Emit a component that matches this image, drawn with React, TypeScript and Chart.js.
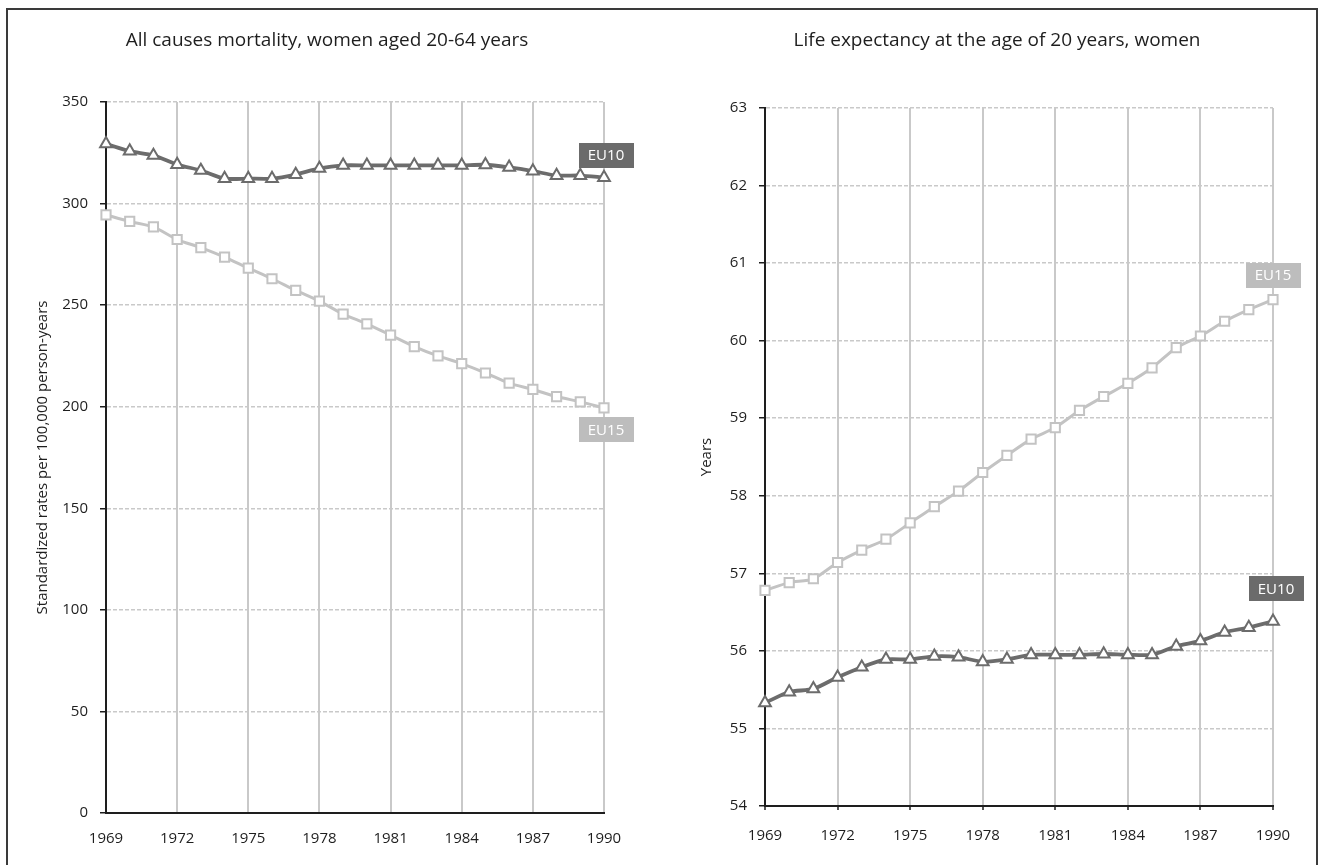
import React, { useEffect, useRef } from "react";
import { Chart, registerables } from "chart.js";

Chart.register(...registerables);

// ---------- DATA ----------
const years = [1969, 1970, 1971, 1972, 1973, 1974, 1975, 1976, 1977, 1978, 1979, 1980, 1981, 1982, 1983, 1984, 1985, 1986, 1987, 1988, 1989, 1990];
const xTickYears = [1969, 1972, 1975, 1978, 1981, 1984, 1987, 1990];

const mortalityTitle = "All causes mortality, women aged 20-64 years";
const mortalityAxisTitle = "Standardized rates per 100,000 person-years";
const mortalityEU10 = [329.4, 325.8, 323.7, 319.2, 316.3, 312.3, 312.3, 312.3, 314.3, 317.3, 318.8, 318.8, 318.8, 318.8, 318.8, 318.8, 319.1, 317.8, 316.0, 313.8, 313.8, 312.8];
const mortalityEU15 = [294.4, 291.2, 288.5, 282.3, 278.3, 273.6, 268.2, 263.0, 257.3, 252.0, 245.6, 240.8, 235.2, 229.6, 225.0, 221.2, 216.6, 211.6, 208.5, 205.0, 202.4, 199.4];
const mortalityTicks = [0, 50, 100, 150, 200, 250, 300, 350];

const lifeTitle = "Life expectancy at the age of 20 years, women";
const lifeAxisTitle = "Years";
const lifeEU10 = [55.33, 55.47, 55.51, 55.66, 55.79, 55.89, 55.89, 55.93, 55.92, 55.86, 55.89, 55.95, 55.95, 55.95, 55.96, 55.95, 55.95, 56.06, 56.13, 56.24, 56.30, 56.38];
const lifeEU15 = [56.78, 56.88, 56.93, 57.14, 57.30, 57.44, 57.65, 57.86, 58.06, 58.30, 58.52, 58.73, 58.88, 59.10, 59.28, 59.45, 59.65, 59.91, 60.06, 60.25, 60.40, 60.53];
const lifeTicks = [54, 55, 56, 57, 58, 59, 60, 61, 62, 63];

const seriesNames = ["EU10", "EU15"];

// ---------- STYLE ----------
const FONT = '"Open Sans", "Noto Sans", sans-serif';
const DARK = "#6c6c6c";
const LIGHT = "#c3c3c3";
const DARK_BOX = "#6b6b6b";
const LIGHT_BOX = "#bdbdbd";
const AXIS = "#1e1e1e";
const GRID = "#c9c9c9";

type EndLabel = { dataset: number; dx: number; dy: number; bg: string };

function makeEndLabelPlugin(items: EndLabel[]) {
  return {
    id: "endLabels",
    afterDatasetsDraw(chart: any) {
      const { ctx } = chart;
      const xs = chart.scales.x;
      const ys = chart.scales.y;
      items.forEach((it) => {
        const ds = chart.data.datasets[it.dataset];
        const last = ds.data[ds.data.length - 1];
        const cx = xs.getPixelForValue(last.x) + it.dx;
        const cy = ys.getPixelForValue(last.y) + it.dy;
        const w = 55;
        const h = 25;
        ctx.save();
        ctx.fillStyle = it.bg;
        ctx.fillRect(Math.round(cx - w / 2), Math.round(cy - h / 2), w, h);
        ctx.fillStyle = "#ffffff";
        ctx.font = `15px ${FONT}`;
        ctx.textAlign = "center";
        ctx.textBaseline = "middle";
        ctx.fillText(ds.label, cx, cy + 1);
        ctx.restore();
      });
    },
  };
}

function makeTitlePlugin(text: string, cx: number, cy: number) {
  return {
    id: "panelTitle",
    afterDraw(chart: any) {
      const { ctx } = chart;
      ctx.save();
      ctx.fillStyle = AXIS;
      ctx.font = `19px ${FONT}`;
      ctx.textAlign = "center";
      ctx.textBaseline = "middle";
      ctx.fillText(text, cx, cy);
      ctx.restore();
    },
  };
}

type PanelProps = {
  title: string;
  titleX: number;
  titleY: number;
  axisTitle: string;
  eu10: number[];
  eu15: number[];
  yTicks: number[];
  yAxisWidth: number;
  yTitleOffset: number;
  padTop: number;
  padRight: number;
  padBottom: number;
  xTickLen: number;
  xLabelPad: number;
  labels: EndLabel[];
  width: number;
  height: number;
};

function Panel(p: PanelProps) {
  const ref = useRef<HTMLCanvasElement | null>(null);
  useEffect(() => {
    if (!ref.current) return;
    const toPts = (vals: number[]) => years.map((y, i) => ({ x: y, y: vals[i] }));
    const chart = new Chart(ref.current, {
      type: "line",
      data: {
        datasets: [
          {
            label: seriesNames[1],
            data: toPts(p.eu15),
            borderColor: LIGHT,
            backgroundColor: "#ffffff",
            borderWidth: 3,
            pointStyle: "rect",
            pointRadius: 6.5,
            pointBorderWidth: 2,
            pointBackgroundColor: "#ffffff",
            pointBorderColor: LIGHT,
            tension: 0.25,
            clip: false,
          },
          {
            label: seriesNames[0],
            data: toPts(p.eu10),
            borderColor: DARK,
            backgroundColor: "#ffffff",
            borderWidth: 3.8,
            pointStyle: "triangle",
            pointRadius: 6.8,
            pointBorderWidth: 2,
            pointBackgroundColor: "#ffffff",
            pointBorderColor: DARK,
            tension: 0.25,
            clip: false,
          },
        ],
      },
      options: {
        animation: false,
        responsive: true,
        maintainAspectRatio: false,
        layout: { padding: { left: 0, right: p.padRight, top: p.padTop, bottom: p.padBottom } },
        plugins: {
          legend: { display: false },
          tooltip: { enabled: false },
          title: { display: false },
        },
        scales: {
          x: {
            type: "linear",
            min: years[0],
            max: years[years.length - 1],
            afterBuildTicks: (axis: any) => {
              axis.ticks = xTickYears.map((v) => ({ value: v }));
            },
            afterFit: (axis: any) => {
              axis.height = 50;
            },
            ticks: {
              color: AXIS,
              font: { family: FONT, size: 15 },
              padding: p.xLabelPad,
              maxRotation: 0,
              autoSkip: false,
              callback: (v: any) => String(v),
            },
            grid: {
              color: GRID,
              lineWidth: 2,
              drawTicks: p.xTickLen > 0,
              tickLength: p.xTickLen,
              tickColor: AXIS,
              tickWidth: 1.5,
            },
            border: { display: true, color: AXIS, width: 2 },
          },
          y: {
            type: "linear",
            min: p.yTicks[0],
            max: p.yTicks[p.yTicks.length - 1],
            afterBuildTicks: (axis: any) => {
              axis.ticks = p.yTicks.map((v) => ({ value: v }));
            },
            afterFit: (axis: any) => {
              axis.width = p.yAxisWidth;
            },
            ticks: {
              color: AXIS,
              font: { family: FONT, size: 15 },
              padding: 12,
              callback: (v: any) => String(v),
            },
            grid: {
              color: GRID,
              lineWidth: 1.5,
              drawTicks: true,
              tickLength: 6,
              tickColor: AXIS,
              tickWidth: 1.5,
            },
            border: { display: true, color: AXIS, width: 2, dash: [4, 2] },
            title: {
              display: true,
              text: p.axisTitle,
              color: AXIS,
              font: { family: FONT, size: 15 },
              padding: { top: p.yTitleOffset, bottom: 0 },
            },
          },
        },
      } as any,
      plugins: [makeEndLabelPlugin(p.labels), makeTitlePlugin(p.title, p.titleX, p.titleY)],
    });
    return () => chart.destroy();
  }, []);
  return (
    <div style={{ position: "relative", width: p.width, height: p.height }}>
      <canvas ref={ref} />
    </div>
  );
}

export default function App() {
  return (
    <div
      style={{
        position: "absolute",
        left: 0,
        top: 0,
        width: 1323,
        height: 865,
        overflow: "hidden",
        background: "#ffffff",
      }}
    >
      <div
        style={{
          position: "absolute",
          left: 6,
          top: 8,
          width: 1308,
          height: 900,
          borderTop: "2px solid #3a3a3a",
          borderLeft: "2px solid #3a3a3a",
          borderRight: "2px solid #3a3a3a",
        }}
      />
      <div style={{ position: "absolute", left: 0, top: 0 }}>
        <Panel
          title={mortalityTitle}
          titleX={327}
          titleY={41}
          axisTitle={mortalityAxisTitle}
          eu10={mortalityEU10}
          eu15={mortalityEU15}
          yTicks={mortalityTicks}
          yAxisWidth={106}
          yTitleOffset={34}
          padTop={102}
          padRight={56}
          padBottom={2}
          xTickLen={0}
          xLabelPad={17}
          labels={[
            { dataset: 1, dx: 2, dy: -22.5, bg: DARK_BOX },
            { dataset: 0, dx: 2, dy: 22, bg: LIGHT_BOX },
          ]}
          width={660}
          height={865}
        />
      </div>
      <div style={{ position: "absolute", left: 660, top: 0 }}>
        <Panel
          title={lifeTitle}
          titleX={337}
          titleY={41}
          axisTitle={lifeAxisTitle}
          eu10={lifeEU10}
          eu15={lifeEU15}
          yTicks={lifeTicks}
          yAxisWidth={105}
          yTitleOffset={38}
          padTop={108}
          padRight={50}
          padBottom={9}
          xTickLen={4}
          xLabelPad={16.5}
          labels={[
            { dataset: 0, dx: 0, dy: -24.5, bg: LIGHT_BOX },
            { dataset: 1, dx: 3, dy: -33, bg: DARK_BOX },
          ]}
          width={663}
          height={865}
        />
      </div>
    </div>
  );
}
